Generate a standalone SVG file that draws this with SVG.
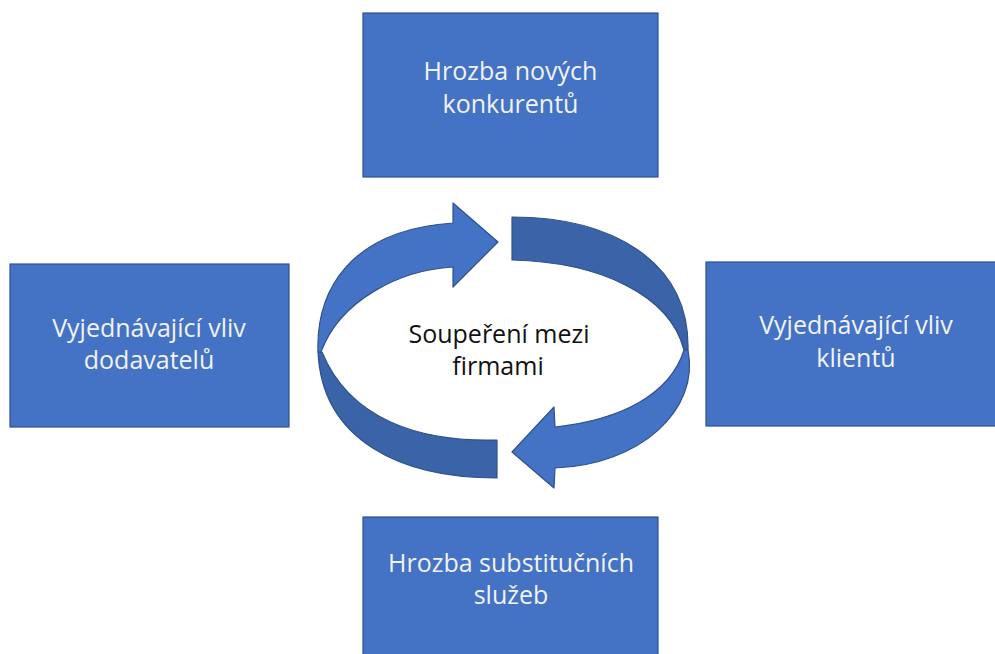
<svg xmlns="http://www.w3.org/2000/svg" width="995" height="654" viewBox="0 0 995 654">
<style>
.box{fill:#4472C4;stroke:#2F528F;stroke-width:1.2}
.bt{font-family:"Open Sans","Noto Sans","DejaVu Sans",sans-serif;font-size:25px;fill:#F2F2F2;text-anchor:middle}
.ct{font-family:"Open Sans","Noto Sans","DejaVu Sans",sans-serif;font-size:25px;fill:#111;text-anchor:middle}
.lt{fill:#4472C4;stroke:#2F528F;stroke-width:1.2;stroke-linejoin:round}
.dk{fill:#3B63A8;stroke:#2F528F;stroke-width:1.2;stroke-linejoin:round}
</style>
<rect width="995" height="654" fill="#fff"/>
<g id="top">
<rect class="box" x="363" y="13" width="295" height="164"/>
<text class="bt" x="510.5" y="80">Hrozba nových</text>
<text class="bt" x="510.5" y="113">konkurentů</text>
</g>
<g id="left">
<rect class="box" x="10" y="264" width="279" height="163"/>
<text class="bt" x="149" y="337">Vyjednávající vliv</text>
<text class="bt" x="149" y="369">dodavatelů</text>
</g>
<g id="right">
<rect class="box" x="706" y="262" width="302" height="164"/>
<text class="bt" x="856" y="334">Vyjednávající vliv</text>
<text class="bt" x="856" y="367">klientů</text>
</g>
<g id="bottom">
<rect class="box" x="363" y="517" width="295" height="150"/>
<text class="bt" x="511" y="572">Hrozba substitučních</text>
<text class="bt" x="511" y="604">služeb</text>
</g>
<g id="connectors">
<path class="dk" d="M318,352 C322,440 400,478 497,478 L497,440 C420,442 350,420 322,352 Z"/>
<path class="lt" d="M453,223 L453,203 L498,242 L453,287 L453,267 C400,270 340,300 321,352 L318,352 C316,290 350,230 453,223 Z"/>
<path class="dk" d="M512,217 C610,217 690,260 688,350 L684,350 C670,295 600,262 512,260 Z"/>
<path class="lt" d="M688,350 C700,410 640,465 555,468 L554,488 L512,452 L554,407 L555,427 C620,420 670,395 684,350 Z"/>
</g>
<g id="center">
<text class="ct" x="499" y="343">Soupeření mezi</text>
<text class="ct" x="498" y="375">firmami</text>
</g>
</svg>
